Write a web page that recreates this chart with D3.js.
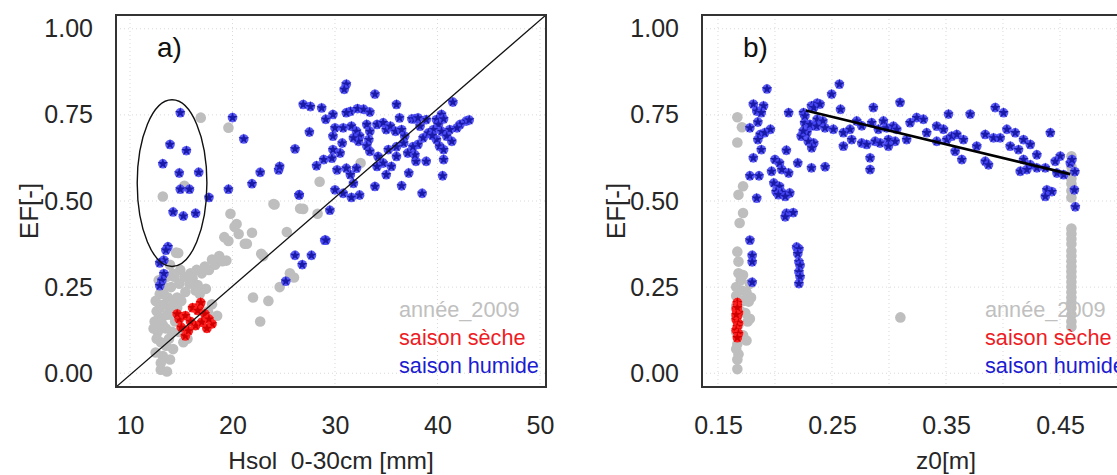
<!DOCTYPE html>
<html><head><meta charset="utf-8">
<script src="https://cdn.jsdelivr.net/npm/d3@7"></script>
<style>
body{margin:0;background:#fff;}
text{font-family:"Liberation Sans",Arial,Helvetica,sans-serif;white-space:pre;}
</style></head>
<body><svg id="c" width="1117" height="475"></svg>
<script>
// ---------- data ----------
const yTicks = [0, 0.25, 0.5, 0.75, 1.0];
const xTicksA = [10, 20, 30, 40, 50];
const xTicksB = [0.15, 0.25, 0.35, 0.45];
const xGridA = [10, 20, 30, 40, 50];
const xGridB = [0.15, 0.20, 0.25, 0.30, 0.35, 0.40, 0.45, 0.50];
const legendLabels = ["année_2009", "saison sèche", "saison humide"];

// panel a : Hsol 0-30cm [mm] vs EF
const grayA = [
 [13.0,0.01],[13.6,0.005],[12.5,0.06],[13.9,0.04],[13.0,0.09],[12.7,0.12],[12.4,0.15],[12.6,0.18],[12.5,0.21],
 [12.9,0.23],[13.3,0.20],[13.1,0.16],[13.5,0.13],[13.8,0.10],[14.2,0.07],[14.0,0.17],[13.7,0.22],[14.3,0.20],
 [14.6,0.22],[15.4,0.236],[13.4,0.25],[14.3,0.28],[14.5,0.35],[14.2,0.289],[14.7,0.349],[16.1,0.276],[17.0,0.29],
 [17.7,0.30],[18.3,0.315],[19.0,0.325],[19.4,0.327],[16.6,0.256],[15.8,0.26],[17.4,0.245],[18.5,0.167],[15.2,0.09],
 [15.6,0.10],[17.6,0.18],[18.0,0.20],[16.4,0.24],[12.8,0.27],[14.9,0.30],[13.9,0.315],[14.6,0.19],[16.8,0.23],
 [13.2,0.05],[12.3,0.13],[12.8,0.16],[13.2,0.14],[13.6,0.17],[13.3,0.23],[13.9,0.19],[14.4,0.15],[12.9,0.19],
 [13.5,0.08],[14.1,0.12],[14.8,0.26],[15.3,0.28],[15.9,0.29],[16.5,0.30],[17.3,0.31],[18.0,0.33],[18.7,0.34],
 [15.0,0.21],[14.0,0.25],[13.6,0.28],[12.6,0.10],[13.0,0.03],[14.8,0.12],
 [22.0,0.22],[23.5,0.21],[22.7,0.15],[23.0,0.34],[25.3,0.41],[24.1,0.49],[26.9,0.477],[28.5,0.556],
 [28.3,0.463],[26.0,0.278],[24.6,0.25],[19.8,0.463],[20.4,0.433],[20.6,0.404],[19.6,0.384],[21.2,0.376],[21.9,0.408],
 [20.2,0.425],[21.4,0.376],[22.8,0.347],[24.0,0.491],[26.6,0.478],[16.9,0.742],[19.6,0.713],[15.3,0.544],[13.2,0.513],
 [32.5,0.61],[19.2,0.395],[25.6,0.29]
];
const redA = [
 [14.8,0.157],[15.4,0.167],[16.1,0.19],[16.8,0.197],[17.3,0.172],[18.0,0.143],[15.4,0.108],[15.7,0.123],[16.4,0.138],
 [15.0,0.133],[17.0,0.148],[17.7,0.157],[16.6,0.182],[14.6,0.172],[16.9,0.205],[15.9,0.15],[17.5,0.13]
];
const blueA = [
 [14.9,0.756],[13.9,0.664],[15.5,0.646],[13.2,0.608],[14.8,0.581],[16.7,0.583],[15.8,0.534],[14.9,0.534],[17.7,0.51],
 [14.2,0.468],[15.2,0.456],[16.4,0.464],[13.7,0.367],[13.5,0.357],[13.3,0.328],[12.9,0.32],[13.3,0.289],[13.1,0.269],
 [12.9,0.254],[20.0,0.742],[21.1,0.68],[19.6,0.534],[21.9,0.55],[22.7,0.583],[24.5,0.59],[24.6,0.60],[26.1,0.651],
 [26.5,0.518],[29.0,0.386],[26.1,0.342],[27.7,0.342],[26.8,0.315],[25.2,0.267],[29.5,0.473],
 [31.1,0.839],[30.9,0.824],[33.9,0.81],[26.9,0.78],[27.6,0.774],[28.7,0.77],[36.0,0.78],[41.5,0.787],[31.5,0.76],
 [32.2,0.768],[32.8,0.766],[33.4,0.758],[31.1,0.756],[29.8,0.751],[29.1,0.737],[27.5,0.70],[36.3,0.741],[37.5,0.738],
 [37.8,0.738],[38.9,0.736],[40.4,0.751],[42.8,0.732],[43.1,0.735],[42.2,0.722],[41.9,0.712],[41.2,0.707],[39.9,0.736],
 [40.1,0.722],[39.6,0.707],[40.4,0.702],[40.9,0.688],[41.4,0.673],[39.9,0.678],[40.2,0.659],[40.6,0.649],[40.6,0.62],
 [40.5,0.573],[38.5,0.522],[36.5,0.544],[37.2,0.581],[38.9,0.615],[37.9,0.615],[37.8,0.634],[37.1,0.639],[36.0,0.629],
 [35.0,0.576],[35.5,0.60],[34.7,0.61],[33.9,0.542],[32.4,0.517],[31.6,0.51],[30.8,0.522],[30.0,0.532],[31.8,0.551],
 [31.5,0.576],[32.1,0.595],[31.1,0.595],[30.2,0.59],[28.9,0.62],[28.2,0.602],[29.7,0.624],[30.5,0.639],[29.8,0.649],
 [30.7,0.668],[29.8,0.688],[30.0,0.712],[30.8,0.712],[31.6,0.717],[32.1,0.702],[32.4,0.688],[33.1,0.722],[33.4,0.702],
 [33.3,0.678],[33.1,0.66],[33.4,0.644],[34.1,0.722],[34.7,0.727],[35.0,0.707],[35.4,0.717],[35.9,0.702],[36.5,0.707],
 [36.8,0.688],[36.7,0.668],[36.0,0.657],[35.2,0.649],[34.2,0.629],[34.1,0.60],[32.3,0.673],[31.8,0.683],[38.3,0.717],
 [38.6,0.683],[38.1,0.664],[37.6,0.657],[39.1,0.697],[39.5,0.69],[38.1,0.741],[40.6,0.738],[29.1,0.386],[26.5,0.517]
];
const ellipseA = [14.1, 0.552, 3.4, 0.242];          // centre x, centre y, radius x, radius y
const diagA = [[8.63, -0.04], [50.59, 1.04]];

// panel b : z0[m] vs EF
const grayB = [
 [0.167,0.743],[0.171,0.714],[0.167,0.67],[0.172,0.543],[0.168,0.518],[0.172,0.465],[0.169,0.436],[0.167,0.353],
 [0.168,0.324],[0.168,0.29],[0.172,0.285],[0.170,0.27],[0.178,0.26],[0.166,0.25],[0.171,0.24],[0.175,0.235],
 [0.166,0.225],[0.179,0.22],[0.172,0.21],[0.177,0.208],[0.166,0.195],[0.17,0.18],[0.174,0.175],[0.166,0.165],
 [0.178,0.158],[0.176,0.15],[0.168,0.14],[0.166,0.12],[0.172,0.11],[0.175,0.095],[0.167,0.085],[0.166,0.07],
 [0.168,0.055],[0.167,0.04],[0.167,0.012],
 [0.46,0.63],[0.46,0.60],[0.46,0.58],[0.46,0.565],[0.46,0.55],[0.46,0.53],[0.46,0.51],[0.46,0.42],[0.46,0.405],
 [0.46,0.39],[0.46,0.375],[0.46,0.355],[0.46,0.34],[0.46,0.325],[0.46,0.31],[0.46,0.295],[0.46,0.28],[0.46,0.265],
 [0.46,0.25],[0.46,0.235],[0.46,0.22],[0.46,0.205],[0.46,0.19],[0.46,0.17],[0.46,0.15],[0.46,0.135],
 [0.31,0.162]
];
const redB = [
 [0.167,0.205],[0.167,0.195],[0.166,0.185],[0.168,0.175],[0.167,0.165],[0.166,0.155],[0.168,0.145],[0.167,0.135],
 [0.166,0.125],[0.168,0.115],[0.167,0.103],[0.167,0.19],[0.166,0.17]
];
const blueB = [
 [0.193,0.825],[0.181,0.781],[0.190,0.776],[0.184,0.761],[0.188,0.756],[0.185,0.729],[0.178,0.712],[0.187,0.693],
 [0.191,0.698],[0.196,0.708],[0.185,0.678],[0.188,0.649],[0.181,0.625],[0.212,0.756],[0.210,0.647],[0.200,0.620],
 [0.204,0.61],[0.197,0.586],[0.206,0.591],[0.212,0.581],[0.220,0.61],[0.232,0.596],[0.244,0.599],[0.178,0.573],
 [0.186,0.573],[0.199,0.552],[0.204,0.542],[0.201,0.527],[0.206,0.525],[0.213,0.523],[0.203,0.518],[0.209,0.513],
 [0.184,0.508],[0.210,0.464],[0.216,0.466],[0.209,0.454],[0.178,0.386],[0.180,0.342],[0.180,0.323],[0.180,0.264],
 [0.219,0.366],[0.221,0.361],[0.220,0.347],[0.221,0.323],[0.222,0.313],[0.221,0.294],[0.222,0.28],[0.221,0.26],
 [0.225,0.756],[0.232,0.776],[0.237,0.784],[0.226,0.727],[0.231,0.717],[0.228,0.698],[0.234,0.668],[0.223,0.688],
 [0.237,0.737],[0.242,0.732],
 [0.2565,0.839],[0.2497,0.81],[0.2575,0.766],[0.234,0.771],[0.2395,0.781],[0.2263,0.747],[0.2307,0.722],[0.2365,0.717],
 [0.2439,0.712],[0.2512,0.708],[0.2248,0.703],[0.2292,0.673],[0.2322,0.654],[0.26,0.698],[0.2658,0.708],[0.2717,0.732],
 [0.2761,0.718],[0.26,0.659],[0.2673,0.678],[0.2761,0.668],[0.2805,0.664],[0.2878,0.673],[0.2863,0.771],[0.2849,0.727],
 [0.2907,0.708],[0.2951,0.732],[0.298,0.712],[0.3039,0.717],[0.3068,0.708],[0.2834,0.625],[0.2834,0.591],[0.2922,0.668],
 [0.2995,0.678],[0.2995,0.659],[0.3054,0.673],[0.3097,0.786],[0.3185,0.727],[0.3243,0.742],[0.3302,0.737],[0.3155,0.678],
 [0.3331,0.698],[0.3419,0.717],[0.3478,0.708],[0.3522,0.752],[0.3419,0.673],[0.3507,0.678],[0.3551,0.688],[0.3595,0.693],
 [0.3653,0.678],[0.3712,0.752],[0.358,0.644],[0.3639,0.62],[0.377,0.659],[0.3844,0.693],[0.3917,0.683],[0.3975,0.683],
 [0.3844,0.615],[0.3873,0.605],[0.3932,0.771],[0.4005,0.756],[0.4034,0.708],[0.4107,0.698],[0.418,0.678],[0.4239,0.664],
 [0.4297,0.634],[0.4063,0.659],[0.4136,0.649],[0.418,0.62],[0.4239,0.605],[0.4297,0.596],[0.4151,0.586],[0.4209,0.591],
 [0.4415,0.698],[0.4385,0.532],[0.4429,0.527],[0.4371,0.513],[0.4458,0.615],[0.4502,0.63],[0.4473,0.581],[0.4532,0.576],
 [0.459,0.61],[0.4605,0.62],[0.4626,0.532],[0.4634,0.483],[0.4371,0.596],[0.463,0.585]
];
const fitB = [[0.227, 0.763], [0.459, 0.578]];

// ---------- drawing ----------
const svg = d3.select("#c");
const y = d3.scaleLinear().domain([-0.04, 1.04]).range([387, 15]);
const panels = [
  {x: d3.scaleLinear().domain([8.63, 50.59]).range([116, 546]), xt: xTicksA, xg: xGridA, fmt: d3.format("d"),
   gray: grayA, red: redA, blue: blueA, label: "a)", xtitle: "Hsol  0-30cm [mm]", xtc: 331, ytx: 38},
  {x: d3.scaleLinear().domain([0.136, 0.507]).range([702, 1125]), xt: xTicksB, xg: xGridB, fmt: d3.format(".2f"),
   gray: grayB, red: redB, blue: blueB, label: "b)", xtitle: "z0[m]", xtc: 946, ytx: 625}
];
const star = d3.symbol().type(d3.symbolStar).size(34);
const txt = "#262626";

panels.forEach((p, i) => {
  const g = svg.append("g");
  const [x0, x1] = p.x.range();
  const cid = "clip" + i;
  svg.append("clipPath").attr("id", cid).append("rect")
    .attr("x", x0).attr("y", 15).attr("width", x1 - x0).attr("height", 372);
  // grid
  const grid = g.append("g").attr("stroke", "#d9d9d9").attr("stroke-dasharray", "1,3").attr("stroke-width", 1);
  grid.selectAll(".gx").data(p.xg).join("line")
    .attr("x1", d => p.x(d)).attr("x2", d => p.x(d)).attr("y1", 15).attr("y2", 387);
  grid.selectAll(".gy").data(yTicks).join("line")
    .attr("x1", x0).attr("x2", x1).attr("y1", d => y(d)).attr("y2", d => y(d));
  const plot = g.append("g").attr("clip-path", `url(#${cid})`);
  // gray
  plot.selectAll(".g").data(p.gray).join("circle")
    .attr("cx", d => p.x(d[0])).attr("cy", d => y(d[1])).attr("r", 5.3).attr("fill", "#bebebe");
  // red
  const rg = plot.selectAll(".r").data(p.red).join("g")
    .attr("transform", d => `translate(${p.x(d[0])},${y(d[1])})`);
  rg.append("circle").attr("r", 4.8).attr("fill", "#ff2020");
  rg.append("path").attr("d", star).attr("fill", "#d00000");
  // blue
  const bg = plot.selectAll(".b").data(p.blue).join("g")
    .attr("transform", d => `translate(${p.x(d[0])},${y(d[1])})`);
  bg.append("circle").attr("r", 4.8).attr("fill", "#4848f6").attr("opacity", 0.9);
  bg.append("path").attr("d", star).attr("fill", "#1a1aa8");
  // lines
  if (i === 0) {
    plot.append("line").attr("x1", p.x(diagA[0][0])).attr("y1", y(diagA[0][1]))
      .attr("x2", p.x(diagA[1][0])).attr("y2", y(diagA[1][1])).attr("stroke", "#111").attr("stroke-width", 1.3);
    plot.append("ellipse").attr("cx", p.x(ellipseA[0])).attr("cy", y(ellipseA[1]))
      .attr("rx", p.x(ellipseA[0] + ellipseA[2]) - p.x(ellipseA[0]))
      .attr("ry", y(ellipseA[1]) - y(ellipseA[1] + ellipseA[3]))
      .attr("fill", "none").attr("stroke", "#111").attr("stroke-width", 1.4);
  } else {
    plot.append("line").attr("x1", p.x(fitB[0][0])).attr("y1", y(fitB[0][1]))
      .attr("x2", p.x(fitB[1][0])).attr("y2", y(fitB[1][1])).attr("stroke", "#000").attr("stroke-width", 2.6);
  }
  // box
  g.append("rect").attr("x", x0).attr("y", 15).attr("width", x1 - x0).attr("height", 372)
    .attr("fill", "none").attr("stroke", "#333").attr("stroke-width", 2);
  // axes
  const ax = g.append("g").attr("transform", "translate(0,387)")
    .call(d3.axisBottom(p.x).tickValues(p.xt).tickFormat(p.fmt).tickSize(0).tickPadding(29));
  const ay = g.append("g").attr("transform", `translate(${x0},0)`)
    .call(d3.axisLeft(y).tickValues(yTicks).tickFormat(d3.format(".2f")).tickSize(0).tickPadding(23));
  [ax, ay].forEach(a => {
    a.select(".domain").remove();
    a.selectAll("text").attr("font-size", 25).attr("fill", txt).style("font-family", '"Liberation Sans",Arial,sans-serif');
  });
  // titles
  g.append("text").attr("x", p.xtc).attr("y", 469).attr("text-anchor", "middle")
    .attr("font-size", 24.5).attr("fill", txt).text(p.xtitle);
  g.append("text").attr("transform", `translate(${p.ytx},211) rotate(-90)`).attr("text-anchor", "middle")
    .attr("font-size", 26).attr("fill", txt).text("EF[-]");
  g.append("text").attr("x", x0 + 41).attr("y", 57).attr("font-size", 28).attr("fill", "#111").text(p.label);
  // legend
  const lc = ["#c0c0c0", "#ee1c25", "#1c1cd0"];
  legendLabels.forEach((t, k) => {
    g.append("text").attr("x", x0 + 283).attr("y", 317 + k * 28).attr("font-size", 21.7)
      .attr("fill", lc[k]).text(t);
  });
});
</script></body></html>
